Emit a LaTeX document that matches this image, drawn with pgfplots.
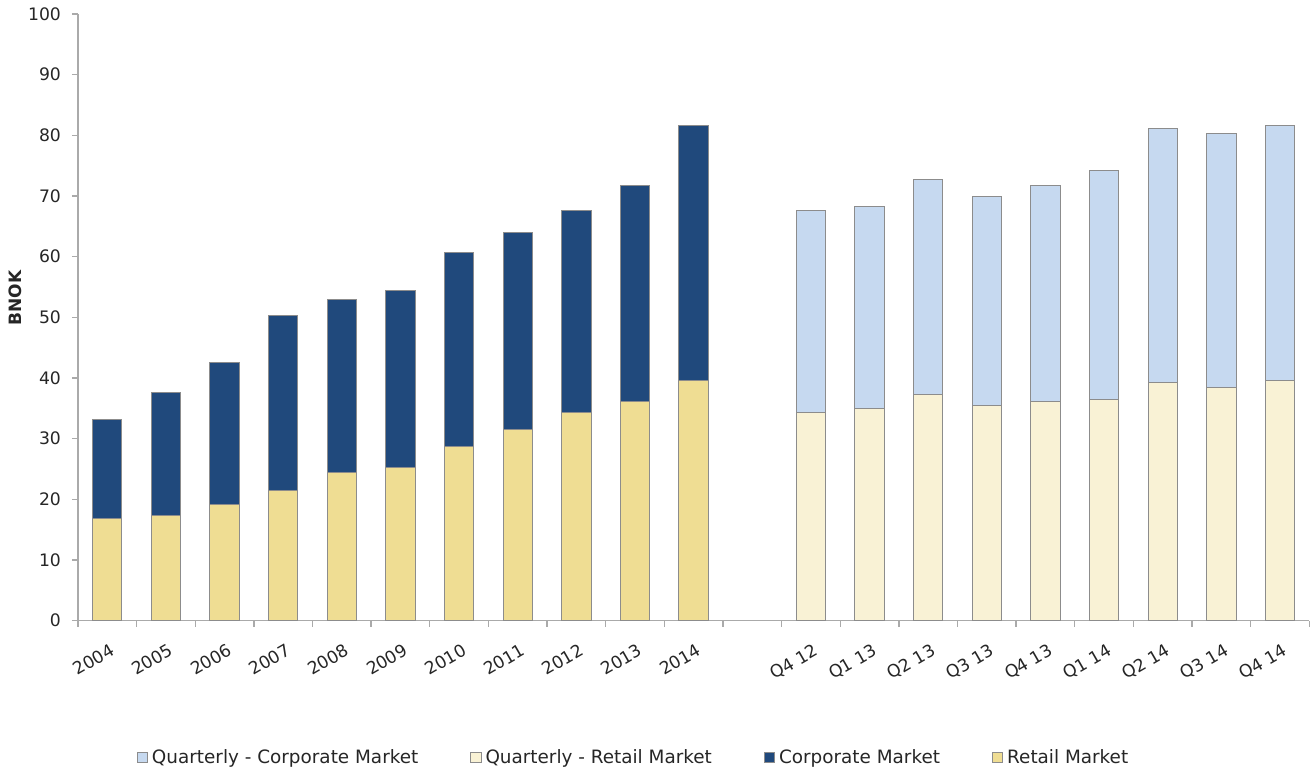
\documentclass[border=0pt]{standalone}
\usepackage{pgfplots}
\pgfplotsset{compat=1.18}
\usepackage{fontspec}
\setmainfont{DejaVu Sans}
\definecolor{corp}{RGB}{32,73,124}
\definecolor{retail}{RGB}{239,221,147}
\definecolor{qcorp}{RGB}{198,217,240}
\definecolor{qretail}{RGB}{249,242,213}
\definecolor{bordergray}{RGB}{140,140,140}
\definecolor{axisgray}{RGB}{170,170,170}
\definecolor{txt}{RGB}{38,38,38}
\begin{document}
\begin{tikzpicture}
\pgfplotsset{
  base/.style={
    width=616pt, height=303.5pt, scale only axis,
    xmin=-0.5, xmax=20.5, ymin=0, ymax=100,
    ybar stacked, bar width=0.5,
  },
  barsty/.style={draw=bordergray, line width=0.5pt},
}
\begin{axis}[base, name=main,
  axis lines*=left,
  axis line style={draw=axisgray, line width=0.7pt},
  tick align=outside,
  major tick length=0pt, minor tick length=3pt,
  tick style={draw=axisgray, line width=0.7pt},
  ytick={0,10,...,100},
  minor ytick={0,10,...,100},
  xtick={0,1,2,3,4,5,6,7,8,9,10,12,13,14,15,16,17,18,19,20},
  xticklabels={2004,2005,2006,2007,2008,2009,2010,2011,2012,2013,2014,Q4 12,Q1 13,Q2 13,Q3 13,Q4 13,Q1 14,Q2 14,Q3 14,Q4 14},
  minor xtick={-0.5,0.5,...,20.5},
  /pgf/number format/assume math mode=true,
  ticklabel style={font=\fontsize{8.6}{10}\selectfont, text=txt},
  xticklabel style={rotate=30, anchor=north east, inner sep=1pt, yshift=-9pt, xshift=-3.5pt},
  yticklabel style={xshift=-5pt},
  ylabel={BNOK},
  every axis y label/.style={at={(axis description cs:-0.0511,0.532)}, rotate=90, anchor=center, font=\fontsize{8.5}{10}\selectfont\bfseries, text=txt},
  legend columns=4,
  legend style={draw=none, fill=none, at={(axis description cs:0.452,0)}, anchor=center, yshift=-68.5pt,
    font=\fontsize{9.2}{11}\selectfont, text=txt,
    /tikz/every even column/.append style={column sep=24pt}},
  legend image code/.code={\draw[#1] (0pt,-2.6pt) rectangle (5.2pt,2.6pt);},
]
\addlegendimage{fill=qcorp, draw=bordergray, line width=0.4pt}
\addlegendentry{Quarterly - Corporate Market}
\addlegendimage{fill=qretail, draw=bordergray, line width=0.4pt}
\addlegendentry{Quarterly - Retail Market}
\addlegendimage{fill=corp, draw=bordergray, line width=0.4pt}
\addlegendentry{Corporate Market}
\addlegendimage{fill=retail, draw=bordergray, line width=0.4pt}
\addlegendentry{Retail Market}
% Retail Market (annual)
\addplot[barsty, fill=retail, forget plot] coordinates {
 (0,16.8) (1,17.4) (2,19.2) (3,21.4) (4,24.5) (5,25.3) (6,28.7) (7,31.5) (8,34.3) (9,36.2) (10,39.6)};
% Corporate Market (annual)
\addplot[barsty, fill=corp, forget plot] coordinates {
 (0,16.3) (1,20.2) (2,23.4) (3,28.9) (4,28.4) (5,29.1) (6,32.0) (7,32.5) (8,33.3) (9,35.5) (10,42.1)};
\end{axis}
\begin{axis}[base, hide axis]
% Quarterly - Retail Market
\addplot[barsty, fill=qretail] coordinates {
 (12,34.3) (13,34.9) (14,37.2) (15,35.5) (16,36.2) (17,36.5) (18,39.3) (19,38.4) (20,39.6)};
% Quarterly - Corporate Market
\addplot[barsty, fill=qcorp] coordinates {
 (12,33.3) (13,33.4) (14,35.6) (15,34.4) (16,35.5) (17,37.7) (18,41.8) (19,41.9) (20,42.1)};
\end{axis}
\path ([shift={(-39pt,-75pt)}]main.south west) rectangle ([shift={(0pt,7pt)}]main.north east);
\end{tikzpicture}
\end{document}
